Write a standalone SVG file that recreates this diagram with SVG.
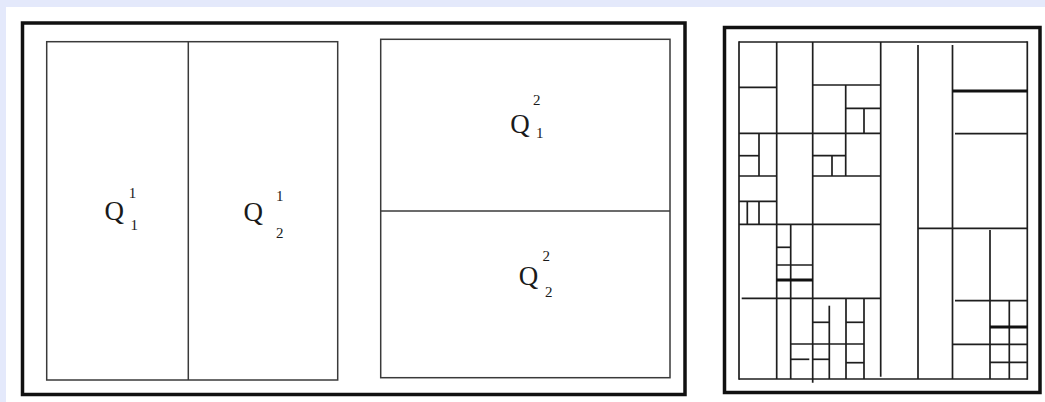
<svg xmlns="http://www.w3.org/2000/svg" width="1045" height="402" viewBox="0 0 1045 402">
  <style>
    .frame { fill: none; stroke: #111; stroke-width: 3.5; }
    .box { fill: none; stroke: #3a3a3a; stroke-width: 1.5; }
    .g { stroke: #1e1e1e; stroke-width: 1.7; fill: none; stroke-linecap: butt; }
    .gt { stroke: #111; stroke-width: 3; fill: none; }
    .q { font-family: "Liberation Serif", "Times New Roman", serif; font-size: 27px; fill: #1a1a1a; }
    .d { font-family: "Liberation Serif", "Times New Roman", serif; font-size: 15px; fill: #1a1a1a; }
  </style>
  <rect x="0" y="0" width="1045" height="402" fill="#ffffff"/>
  <rect x="0" y="0" width="1045" height="7" fill="#e4e9fb"/>
  <rect x="0" y="0" width="6" height="402" fill="#e4e9fb"/>

  <g id="panel-left">
    <rect class="frame" x="22.5" y="23" width="662.5" height="371.5"/>
    <g id="split-vertical">
      <rect class="box" x="46.7" y="41.7" width="291" height="338.3"/>
      <line class="box" x1="188.3" y1="41.7" x2="188.3" y2="380"/>
      <g id="Q1-1">
        <text class="q" x="104.5" y="219.5">Q</text>
        <text class="d" x="128.8" y="198">1</text>
        <text class="d" x="130.5" y="230">1</text>
      </g>
      <g id="Q2-1">
        <text class="q" x="243.5" y="220.5">Q</text>
        <text class="d" x="276" y="201">1</text>
        <text class="d" x="276" y="238">2</text>
      </g>
    </g>
    <g id="split-horizontal">
      <rect class="box" x="380.7" y="39.3" width="289.3" height="338.4"/>
      <line class="box" x1="380.7" y1="211" x2="670" y2="211"/>
      <g id="Q1-2">
        <text class="q" x="510.2" y="132.5">Q</text>
        <text class="d" x="533" y="105">2</text>
        <text class="d" x="536" y="138">1</text>
      </g>
      <g id="Q2-2">
        <text class="q" x="518.8" y="284.5">Q</text>
        <text class="d" x="542.5" y="261">2</text>
        <text class="d" x="545" y="297">2</text>
      </g>
    </g>
  </g>

  <g id="panel-right">
    <rect class="frame" x="724.5" y="27.5" width="315.5" height="365"/>
    <g id="grid">
      <line class="g" x1="739" y1="42" x2="1027.3" y2="42"/>
      <line class="g" x1="739" y1="41.2" x2="739" y2="379.8"/>
      <line class="g" x1="1027.3" y1="41.2" x2="1027.3" y2="379.8"/>
      <line class="g" x1="739" y1="379" x2="1027.3" y2="379"/>
      <line class="g" x1="776.7" y1="42" x2="776.7" y2="379"/>
      <line class="g" x1="812.7" y1="42" x2="812.7" y2="382.7"/>
      <line class="g" x1="880.7" y1="42" x2="880.7" y2="376.7"/>
      <line class="g" x1="845.7" y1="85" x2="845.7" y2="176"/>
      <line class="g" x1="864" y1="108.3" x2="864" y2="133.3"/>
      <line class="g" x1="759" y1="133.3" x2="759" y2="176"/>
      <line class="g" x1="832" y1="155.7" x2="832" y2="176"/>
      <line class="g" x1="747.3" y1="201.3" x2="747.3" y2="224.3"/>
      <line class="g" x1="759" y1="201.3" x2="759" y2="224.3"/>
      <line class="g" x1="790.7" y1="224.3" x2="790.7" y2="379"/>
      <line class="g" x1="829.3" y1="305.7" x2="829.3" y2="379"/>
      <line class="g" x1="846" y1="298.3" x2="846" y2="379"/>
      <line class="g" x1="864" y1="298.3" x2="864" y2="379"/>
      <line class="g" x1="739" y1="87.3" x2="776.7" y2="87.3"/>
      <line class="g" x1="812.7" y1="85" x2="880.7" y2="85"/>
      <line class="g" x1="845.7" y1="108.3" x2="880.7" y2="108.3"/>
      <line class="g" x1="739" y1="133.3" x2="880.7" y2="133.3"/>
      <line class="g" x1="739" y1="155.7" x2="759" y2="155.7"/>
      <line class="g" x1="739" y1="176" x2="776.7" y2="176"/>
      <line class="g" x1="812.7" y1="155.7" x2="845.7" y2="155.7"/>
      <line class="g" x1="812.7" y1="176" x2="880.7" y2="176"/>
      <line class="g" x1="739" y1="201.3" x2="776.7" y2="201.3"/>
      <line class="g" x1="739" y1="224.3" x2="880.7" y2="224.3"/>
      <line class="g" x1="776.7" y1="247.3" x2="790.7" y2="247.3"/>
      <line class="g" x1="776.7" y1="265" x2="812.7" y2="265"/>
      <line class="gt" x1="776.7" y1="280" x2="812.7" y2="280"/>
      <line class="g" x1="741.7" y1="298.3" x2="880.7" y2="298.3"/>
      <line class="g" x1="812.7" y1="322.3" x2="829.3" y2="322.3"/>
      <line class="g" x1="846" y1="322.3" x2="864" y2="322.3"/>
      <line class="g" x1="790.7" y1="344" x2="864" y2="344"/>
      <line class="g" x1="790.7" y1="359.3" x2="809.3" y2="359.3"/>
      <line class="g" x1="812.7" y1="359.3" x2="829.3" y2="359.3"/>
      <line class="g" x1="846" y1="362.7" x2="864" y2="362.7"/>
      <line class="g" x1="918" y1="45" x2="918" y2="379"/>
      <line class="g" x1="952.5" y1="45" x2="952.5" y2="379"/>
      <line class="gt" x1="952.5" y1="91" x2="1027.3" y2="91"/>
      <line class="g" x1="955" y1="133.7" x2="1027.3" y2="133.7"/>
      <line class="g" x1="918" y1="228.3" x2="1027.3" y2="228.3"/>
      <line class="g" x1="990" y1="230" x2="990" y2="379"/>
      <line class="g" x1="955" y1="300.7" x2="1027.3" y2="300.7"/>
      <line class="g" x1="1009.3" y1="300.7" x2="1009.3" y2="379"/>
      <line class="gt" x1="990" y1="327" x2="1027.3" y2="327"/>
      <line class="g" x1="952.5" y1="344.3" x2="1027.3" y2="344.3"/>
      <line class="g" x1="990" y1="362.3" x2="1027.3" y2="362.3"/>
    </g>
  </g>
</svg>
